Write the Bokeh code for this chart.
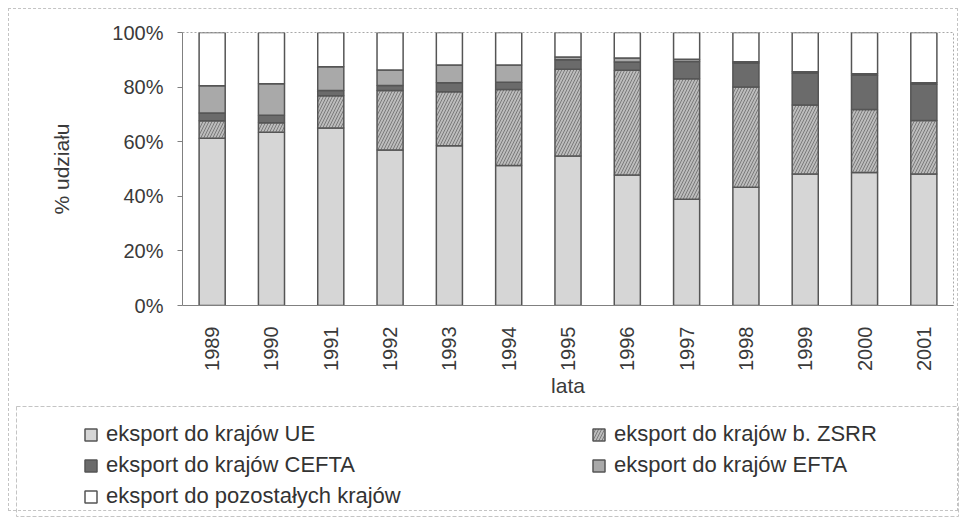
import math
from bokeh.plotting import figure
from bokeh.layouts import column
from bokeh.models import (ColumnDataSource, Range1d, FactorRange, Legend, LegendItem,
                          FixedTicker)
from bokeh.embed import file_html
from bokeh.resources import INLINE

# ---- data (percent share of Polish exports) ----
years = ["1989", "1990", "1991", "1992", "1993", "1994", "1995",
         "1996", "1997", "1998", "1999", "2000", "2001"]
ue    = [61.3, 63.5, 65.0, 57.0, 58.5, 51.3, 54.8, 47.8, 38.9, 43.3, 48.2, 48.7, 48.2]
zsrr  = [6.4, 3.4, 11.8, 21.8, 19.8, 27.8, 31.7, 38.4, 44.2, 36.7, 25.2, 23.1, 19.6]
cefta = [2.8, 2.8, 2.0, 1.8, 3.3, 2.7, 3.5, 3.0, 6.3, 8.8, 11.7, 12.5, 13.2]
efta  = [10.0, 11.5, 8.7, 5.7, 6.5, 6.3, 1.0, 1.5, 0.8, 0.5, 0.5, 0.6, 0.6]
other = [19.5, 18.8, 12.5, 13.7, 11.9, 11.9, 9.0, 9.3, 9.8, 10.7, 14.4, 15.1, 18.4]

series_keys = ["ue", "zsrr", "cefta", "efta", "other"]
series_labels = ["eksport do krajów UE", "eksport do krajów b. ZSRR",
                 "eksport do krajów CEFTA", "eksport do krajów EFTA",
                 "eksport do pozostałych krajów"]
legend_order = [0, 2, 4, 1, 3]   # column-major fill -> rows: UE|ZSRR, CEFTA|EFTA, other
y_ticks = [0, 20, 40, 60, 80, 100]
y_tick_labels = ["0%", "20%", "40%", "60%", "80%", "100%"]
x_title = "lata"
y_title = "% udziału"

# ---- styles ----
colors = ["#d6d6d6", "#bcbcbc", "#6b6b6b", "#a9a9a9", "#ffffff"]
hatches = [" ", "/", " ", " ", " "]
FONT = "Liberation Sans"
bar_style = dict(fill_color=colors, line_color="#555555", line_width=1.5,
                 hatch_pattern=hatches, hatch_color="#7a7a7a",
                 hatch_scale=6, hatch_weight=1)

source = ColumnDataSource(dict(year=years, ue=ue, zsrr=zsrr, cefta=cefta,
                               efta=efta, other=other))

# ---- chart ----
p = figure(x_range=FactorRange(factors=years, range_padding=0),
           y_range=Range1d(0, 100),
           width=966, height=405,
           output_backend="svg", toolbar_location=None,
           min_border_left=182, min_border_right=13,
           min_border_top=32, min_border_bottom=100)
p.frame_align = False

rs = p.vbar_stack(series_keys, x="year", width=0.44, source=source, **bar_style)

p.background_fill_color = "white"
p.border_fill_alpha = 0
p.outline_line_color = "#a8a8a8"
p.outline_line_dash = "2 2"
p.outline_line_width = 1
p.xgrid.grid_line_color = None
p.ygrid.grid_line_color = None

p.yaxis.ticker = FixedTicker(ticks=y_ticks)
p.yaxis.major_label_overrides = dict(zip(y_ticks, y_tick_labels))
p.yaxis.minor_tick_line_color = None
p.yaxis.major_tick_in = 0
p.yaxis.major_tick_out = 5
p.yaxis.major_tick_line_color = "#808080"
p.yaxis.major_label_standoff = 14
p.yaxis.axis_label = y_title
p.yaxis.axis_label_standoff = 36

p.xaxis.major_tick_line_color = None
p.xaxis.major_label_orientation = math.pi / 2
p.xaxis.major_label_standoff = 15
p.xaxis.axis_label = x_title
p.xaxis.axis_label_standoff = 0

for ax in (p.xaxis, p.yaxis):
    ax.axis_line_color = "#808080"
    ax.major_label_text_font = FONT
    ax.major_label_text_font_size = "20px"
    ax.major_label_text_color = "#3a3a3a"
    ax.axis_label_text_font = FONT
    ax.axis_label_text_font_size = "21px"
    ax.axis_label_text_font_style = "normal"
    ax.axis_label_text_color = "#3a3a3a"

# ---- legend panel ----
pl = figure(x_range=p.x_range, y_range=Range1d(0, 100),
            width=966, height=114,
            output_backend="svg", toolbar_location=None,
            x_axis_location=None, y_axis_location=None,
            min_border_left=16, min_border_right=8,
            min_border_top=1, min_border_bottom=3)
pl.frame_align = False
pl.grid.visible = False
pl.background_fill_alpha = 0
pl.border_fill_alpha = 0
pl.outline_line_color = "#c4c4c4"
pl.outline_line_dash = "4 2"
pl.outline_line_width = 1

lrs = pl.vbar_stack(series_keys, x="year", width=0.44, source=source, **bar_style)
for r in lrs:
    r.visible = False

items = [LegendItem(label=series_labels[i], renderers=[lrs[i]]) for i in legend_order]
legend = Legend(items=items, location=(67, 7), ncols=2,
                border_line_alpha=0, background_fill_alpha=0,
                padding=0, margin=0, spacing=5,
                glyph_width=15, glyph_height=15, label_standoff=8,
                label_width=480, label_height=24,
                label_text_font=FONT, label_text_font_size="22px",
                label_text_color="#333333")
pl.add_layout(legend)

layout = column(p, pl, spacing=0,
                styles={"background-color": "white",
                        "outline": "1px dashed #c4c4c4",
                        "outline-offset": "-9px"})

open("out.html", "w").write(file_html(layout, INLINE))
